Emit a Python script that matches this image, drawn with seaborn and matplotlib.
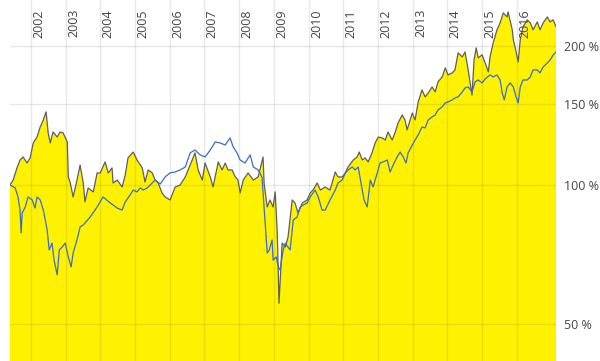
import matplotlib
matplotlib.use("Agg")
import matplotlib.pyplot as plt
import matplotlib.transforms as mtransforms
import seaborn as sns
import numpy as np
import pandas as pd

# ---- data (fractional years, % of start value) ----
gray_t = [2001.40, 2001.49, 2001.61, 2001.69, 2001.78, 2001.89, 2001.98, 2002.07, 2002.18, 2002.27,
          2002.36, 2002.44, 2002.50, 2002.56, 2002.64, 2002.76, 2002.84, 2002.93, 2003.05, 2003.08,
          2003.13, 2003.22, 2003.33, 2003.42, 2003.51, 2003.56, 2003.65, 2003.80, 2003.91, 2004.00,
          2004.14, 2004.23, 2004.34, 2004.37, 2004.49, 2004.63, 2004.72, 2004.80, 2004.95, 2005.06,
          2005.21, 2005.29, 2005.38, 2005.50, 2005.58, 2005.67, 2005.78, 2005.87, 2006.01, 2006.16,
          2006.30, 2006.45, 2006.53, 2006.65, 2006.73, 2006.82, 2006.94, 2007.02, 2007.17, 2007.25,
          2007.40, 2007.51, 2007.60, 2007.68, 2007.80, 2007.89, 2007.97, 2008.03, 2008.12, 2008.26,
          2008.41, 2008.55, 2008.69, 2008.72, 2008.81, 2008.89, 2008.98, 2009.04, 2009.10, 2009.15,
          2009.24, 2009.33, 2009.41, 2009.53, 2009.61, 2009.70, 2009.82, 2009.96, 2010.05, 2010.13,
          2010.25, 2010.34, 2010.48, 2010.62, 2010.77, 2010.85, 2010.97, 2011.06, 2011.14, 2011.29,
          2011.40, 2011.46, 2011.55, 2011.63, 2011.72, 2011.83, 2011.92, 2012.01, 2012.12, 2012.21,
          2012.29, 2012.41, 2012.50, 2012.58, 2012.70, 2012.78, 2012.84, 2012.99, 2013.07, 2013.16,
          2013.27, 2013.36, 2013.45, 2013.56, 2013.65, 2013.73, 2013.85, 2013.94, 2014.02, 2014.14,
          2014.22, 2014.31, 2014.43, 2014.51, 2014.60, 2014.71, 2014.77, 2014.83, 2014.89, 2015.00,
          2015.09, 2015.18, 2015.23, 2015.32, 2015.43, 2015.52, 2015.61, 2015.72, 2015.75, 2015.87,
          2015.90, 2015.95, 2016.04, 2016.10, 2016.18, 2016.30, 2016.39, 2016.47, 2016.59, 2016.67,
          2016.76, 2016.88, 2016.96, 2017.05, 2017.13]
gray_v = [100.0, 102.5, 109.4, 113.3, 115.0, 111.6, 114.5, 123.4, 127.1, 133.6,
          138.4, 144.1, 129.7, 123.4, 130.3, 127.1, 130.3, 129.7, 124.0, 104.1,
          101.5, 94.2, 102.5, 110.5, 101.0, 91.9, 98.5, 96.6, 106.2, 106.2,
          112.2, 106.2, 108.9, 101.0, 102.5, 99.0, 105.1, 114.5, 117.9, 113.3,
          108.9, 101.5, 107.8, 106.2, 102.5, 101.0, 96.1, 94.2, 92.8, 99.0,
          100.0, 104.1, 107.8, 113.3, 117.4, 107.8, 102.5, 111.6, 104.1, 99.0,
          112.2, 107.8, 111.6, 107.8, 107.8, 104.1, 102.5, 96.1, 102.5, 106.2,
          102.5, 104.1, 115.0, 101.0, 89.6, 92.8, 89.6, 96.6, 78.7, 55.4,
          74.8, 73.3, 77.1, 92.8, 91.4, 86.9, 91.4, 92.8, 96.1, 97.5,
          101.0, 97.5, 99.0, 97.5, 106.7, 104.1, 104.1, 106.2, 109.4, 113.3,
          115.0, 117.9, 113.3, 114.5, 112.2, 117.4, 123.4, 127.1, 126.5, 125.2,
          130.3, 125.2, 130.3, 136.3, 141.9, 138.4, 131.7, 143.3, 138.4, 151.4,
          160.8, 155.3, 158.4, 163.2, 159.2, 167.4, 171.6, 179.5, 173.3, 175.1,
          177.7, 193.5, 189.6, 194.4, 177.7, 156.8, 186.8, 198.4, 188.7, 191.6,
          184.0, 175.9, 189.6, 203.4, 217.1, 224.8, 236.3, 231.6, 237.5, 217.1,
          206.5, 199.4, 184.9, 206.5, 220.3, 228.2, 224.8, 217.1, 225.9, 217.1,
          224.8, 231.6, 225.9, 228.2, 220.3]

blue_t = [2001.40, 2001.55, 2001.63, 2001.69, 2001.72, 2001.75, 2001.84, 2001.92, 2002.04, 2002.12,
          2002.18, 2002.27, 2002.36, 2002.47, 2002.53, 2002.61, 2002.67, 2002.76, 2002.82, 2002.90,
          2002.99, 2003.08, 2003.16, 2003.22, 2003.33, 2003.42, 2003.51, 2003.71, 2003.91, 2004.08,
          2004.29, 2004.49, 2004.63, 2004.72, 2004.86, 2004.95, 2005.06, 2005.15, 2005.24, 2005.35,
          2005.44, 2005.58, 2005.73, 2005.87, 2006.01, 2006.16, 2006.30, 2006.45, 2006.59, 2006.73,
          2006.88, 2007.02, 2007.17, 2007.31, 2007.45, 2007.60, 2007.74, 2007.83, 2007.94, 2008.03,
          2008.17, 2008.32, 2008.41, 2008.55, 2008.66, 2008.75, 2008.81, 2008.87, 2008.95, 2008.98,
          2009.07, 2009.13, 2009.18, 2009.27, 2009.33, 2009.41, 2009.47, 2009.56, 2009.67, 2009.76,
          2009.85, 2009.96, 2010.05, 2010.19, 2010.28, 2010.39, 2010.48, 2010.62, 2010.77, 2010.85,
          2010.97, 2011.06, 2011.14, 2011.26, 2011.34, 2011.43, 2011.55, 2011.60, 2011.69, 2011.78,
          2011.86, 2011.98, 2012.06, 2012.15, 2012.27, 2012.35, 2012.44, 2012.55, 2012.64, 2012.73,
          2012.81, 2012.87, 2012.99, 2013.07, 2013.16, 2013.27, 2013.36, 2013.45, 2013.56, 2013.65,
          2013.73, 2013.85, 2013.94, 2014.02, 2014.14, 2014.22, 2014.31, 2014.43, 2014.51, 2014.60,
          2014.71, 2014.80, 2014.89, 2015.00, 2015.09, 2015.23, 2015.32, 2015.43, 2015.52, 2015.58,
          2015.64, 2015.72, 2015.81, 2015.90, 2015.98, 2016.04, 2016.10, 2016.18, 2016.30, 2016.39,
          2016.47, 2016.59, 2016.67, 2016.76, 2016.88, 2016.96, 2017.05, 2017.13]
blue_v = [100.0, 98.5, 94.2, 88.2, 78.7, 86.9, 89.6, 94.2, 92.8, 89.1,
          94.2, 92.8, 88.2, 79.9, 72.3, 74.8, 68.7, 63.8, 72.3, 73.3,
          74.8, 69.8, 66.4, 71.2, 76.0, 81.1, 81.9, 85.2, 89.6, 94.2,
          91.4, 89.1, 88.2, 91.9, 95.1, 97.5, 96.6, 98.5, 97.5, 98.5,
          100.0, 102.5, 100.5, 104.1, 106.2, 106.7, 107.8, 109.4, 117.4, 119.1,
          116.2, 115.0, 119.1, 124.0, 123.4, 122.1, 126.5, 120.9, 117.4, 113.3,
          111.6, 116.2, 109.4, 107.8, 104.1, 82.7, 71.2, 72.3, 76.0, 68.7,
          69.8, 66.4, 65.4, 72.3, 74.8, 73.3, 72.3, 83.9, 85.2, 89.6,
          90.5, 91.4, 94.2, 97.5, 94.2, 88.2, 88.2, 92.8, 97.5, 101.0,
          102.5, 106.2, 107.8, 109.4, 107.8, 109.4, 97.5, 92.8, 89.6, 102.5,
          99.0, 106.2, 111.6, 112.2, 113.3, 106.7, 110.5, 115.0, 117.9, 115.0,
          111.6, 117.4, 122.1, 125.2, 128.4, 133.6, 133.0, 138.4, 140.5, 141.9,
          145.5, 147.7, 150.7, 151.4, 153.0, 154.5, 155.3, 159.2, 162.4, 163.2,
          159.2, 167.4, 169.0, 166.5, 169.9, 173.3, 171.6, 173.3, 169.0, 158.4,
          153.0, 163.2, 166.5, 163.2, 155.3, 150.7, 163.2, 169.0, 169.0, 171.6,
          177.7, 177.7, 175.1, 180.4, 184.0, 186.8, 191.6, 194.4]

years = list(range(2002, 2017))
y_ticks = [50, 100, 150, 200]
y_labels = ["50 %", "100 %", "150 %", "200 %"]

# ---- styling ----
sns.set_theme(style="white")
plt.rcParams['font.family'] = ['Open Sans', 'DejaVu Sans']

YELLOW = "#FFF200"
GRAY = "#5E5E5E"
BLUE = "#3B6CC6"
TEXT = "#444444"

fig = plt.figure(figsize=(6.0, 3.61), dpi=100)
ax = fig.add_axes([10 / 600, 0.0, 546 / 600, 1.0])

gray_df = pd.DataFrame({"t": gray_t, "v": gray_v})
blue_df = pd.DataFrame({"t": blue_t, "v": blue_v})

ymin, ymax = 41.5, 252.0
ax.fill_between(gray_df["t"], gray_df["v"], 1.0, color=YELLOW, lw=0, zorder=1)
sns.lineplot(data=gray_df, x="t", y="v", ax=ax, color=GRAY, lw=0.9,
             sort=False, estimator=None, zorder=2)
sns.lineplot(data=blue_df, x="t", y="v", ax=ax, color=BLUE, lw=0.9,
             sort=False, estimator=None, zorder=3)

ax.set_yscale("log")
ax.set_ylim(ymin, ymax)
ax.set_xlim(2001.40, 2017.13)

ax.set_yticks(y_ticks)
ax.set_yticklabels(y_labels)
ax.yaxis.set_minor_locator(matplotlib.ticker.NullLocator())
ax.yaxis.tick_right()
ax.tick_params(axis="y", length=0, pad=6, labelsize=9, labelcolor=TEXT)
ax.set_xticks(years)
ax.tick_params(axis="x", length=0, labelbottom=False)

ax.set_axisbelow("line")
ax.grid(True, color="black", alpha=0.09, lw=1.0)

for s in ax.spines.values():
    s.set_visible(False)
ax.set_xlabel("")
ax.set_ylabel("")

offset = mtransforms.offset_copy(ax.get_xaxis_transform(), fig=fig, x=1.5, y=0, units="dots")
for yr in years:
    ax.text(yr, 1 - 9 / 361, str(yr), rotation=90, ha="left", va="top",
            fontsize=9, color=TEXT, transform=offset, zorder=5)

fig.savefig("out.png", dpi=100)
